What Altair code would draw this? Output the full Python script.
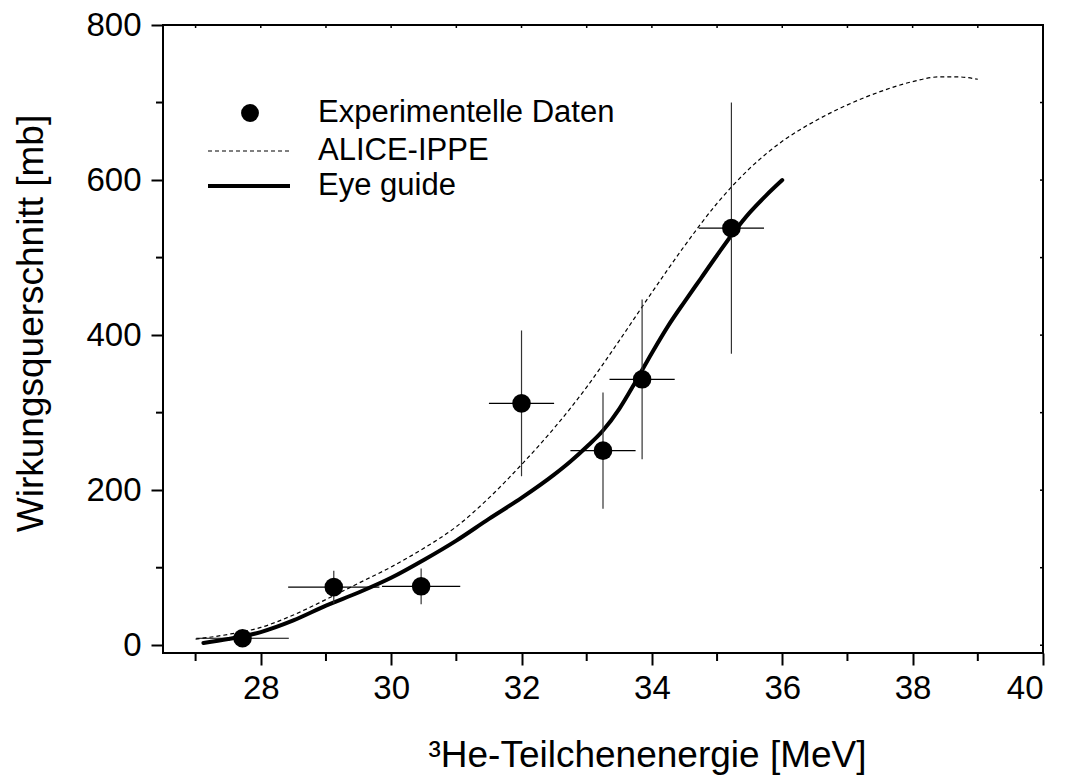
import altair as alt
import pandas as pd

# ---- data ----
energy = [27.72, 29.12, 30.46, 32.0, 33.25, 33.85, 35.22]
sigma = [9, 75, 76, 312, 251, 343, 538]
energy_err = [0.71, 0.70, 0.60, 0.50, 0.50, 0.50, 0.50]
sigma_err = [8, 21, 23, 94, 75, 103, 162]

alice_e = [27.0, 27.5, 28.0, 28.5, 29.0, 29.5, 30.0, 30.5, 31.0, 31.5, 32.0, 32.5,
           33.0, 33.5, 34.0, 34.5, 35.0, 35.5, 36.0, 36.5, 37.0, 37.5,
           38.0, 38.4, 38.7, 39.0]
alice_v = [8, 14, 23, 39, 59, 80, 101, 125, 153, 190, 233, 280,
           333, 393, 455, 515, 570, 615, 650, 676, 697, 714,
           727, 733, 733, 730]

eye_e = [27.12, 27.5, 28.0, 28.5, 29.0, 29.5, 30.0, 30.5, 31.0, 31.5, 32.0, 32.5,
         32.75, 33.0, 33.25, 33.5, 33.75, 34.0, 34.25, 34.5, 34.75, 35.0, 35.25,
         35.5, 35.75, 36.0]
eye_v = [3, 8, 17, 32, 51, 68, 87, 110, 135, 163, 190, 220,
         237, 256, 277, 305, 340, 377, 412, 443, 473, 503, 532,
         558, 580, 600]

x_major = [28, 30, 32, 34, 36, 38, 40]
x_minor = [27, 29, 31, 33, 35, 37, 39]
y_major = [0, 200, 400, 600, 800]
y_minor = [100, 300, 500, 700]

FONT = "Liberation Sans"
W, H = 880, 628

pts = pd.DataFrame({"E": energy, "S": sigma, "dE": energy_err, "dS": sigma_err})
pts["E_lo"] = pts["E"] - pts["dE"]
pts["E_hi"] = pts["E"] + pts["dE"]
pts["S_lo"] = pts["S"] - pts["dS"]
pts["S_hi"] = pts["S"] + pts["dS"]

xs = alt.Scale(domain=[26.5, 40], nice=False, zero=False)
ys = alt.Scale(domain=[-10, 800], nice=False, zero=False)

x_axis = alt.Axis(values=x_major, title="³He-Teilchenenergie [MeV]", grid=False, domain=False,
                  tickSize=12, tickWidth=2, tickColor="black", labelFontSize=33,
                  labelPadding=7, labelColor="black", labelFont=FONT, format="d",
                  titleFontSize=37, titleFontWeight="normal", titleFont=FONT, titleColor="black",
                  titleX=484, titleY=113, titleBaseline="alphabetic", titleAlign="center")
y_axis = alt.Axis(values=y_major, title="Wirkungsquerschnitt [mb]", grid=False, domain=False,
                  tickSize=12, tickWidth=2, tickColor="black", labelFontSize=33,
                  labelPadding=10, labelColor="black", labelFont=FONT, format="d",
                  titleFontSize=37, titleFontWeight="normal", titleFont=FONT, titleColor="black",
                  titleX=-121, titleY=298, titleBaseline="alphabetic", titleAlign="center",
                  titleAngle=270)

base = alt.Chart(pts)

alice = alt.Chart(pd.DataFrame({"E": alice_e, "S": alice_v})).mark_line(
    color="black", strokeWidth=1.2, strokeDash=[4, 3], interpolate="monotone"
).encode(x=alt.X("E:Q", scale=xs, axis=x_axis), y=alt.Y("S:Q", scale=ys, axis=y_axis))

eye = alt.Chart(pd.DataFrame({"E": eye_e, "S": eye_v})).mark_line(
    color="black", strokeWidth=4, interpolate="monotone", strokeCap="round"
).encode(x=alt.X("E:Q", scale=xs), y=alt.Y("S:Q", scale=ys))

xerr = base.mark_rule(color="black", strokeWidth=1.2).encode(
    x=alt.X("E_lo:Q", scale=xs), x2="E_hi:Q", y=alt.Y("S:Q", scale=ys))
yerr = base.mark_rule(color="#333333", strokeWidth=1.2).encode(
    x=alt.X("E:Q", scale=xs), y=alt.Y("S_lo:Q", scale=ys), y2="S_hi:Q")
dots = base.mark_circle(color="black", opacity=1, size=345).encode(
    x=alt.X("E:Q", scale=xs), y=alt.Y("S:Q", scale=ys))

# minor ticks (outside) and small ticks on top/right
xminor = alt.Chart(pd.DataFrame({"v": x_minor})).mark_rule(color="black", strokeWidth=2).encode(
    x=alt.X("v:Q", scale=xs), y=alt.value(H), y2=alt.value(H + 8))
yminor = alt.Chart(pd.DataFrame({"v": y_minor})).mark_rule(color="black", strokeWidth=2).encode(
    y=alt.Y("v:Q", scale=ys), x=alt.value(0), x2=alt.value(-7))
xtop = alt.Chart(pd.DataFrame({"v": x_major + x_minor})).mark_rule(color="black", strokeWidth=1.5).encode(
    x=alt.X("v:Q", scale=xs), y=alt.value(0), y2=alt.value(3))
yright = alt.Chart(pd.DataFrame({"v": y_major + y_minor})).mark_rule(color="black", strokeWidth=1.5).encode(
    y=alt.Y("v:Q", scale=ys), x=alt.value(W), x2=alt.value(W - 3))

# legend
one = pd.DataFrame({"a": [0]})
leg_dot = alt.Chart(one).mark_circle(color="black", opacity=1, size=320).encode(
    x=alt.value(87), y=alt.value(88))
leg_dash = alt.Chart(one).mark_rule(color="black", strokeWidth=1.2, strokeDash=[4, 3]).encode(
    x=alt.value(45), x2=alt.value(127), y=alt.value(126))
leg_solid = alt.Chart(one).mark_rule(color="black", strokeWidth=4).encode(
    x=alt.value(45), x2=alt.value(127), y=alt.value(161))
leg_labels = ["Experimentelle Daten", "ALICE-IPPE", "Eye guide"]
leg_y = [88, 126, 161]
leg_texts = [alt.Chart(one).mark_text(align="left", baseline="middle", fontSize=31, font=FONT,
                                        color="black").encode(
    x=alt.value(155), y=alt.value(yy), text=alt.value(t)) for t, yy in zip(leg_labels, leg_y)]

chart = alt.layer(
    alice, eye, xerr, yerr, dots, xminor, yminor, xtop, yright,
    leg_dot, leg_dash, leg_solid, *leg_texts
).properties(
    width=W, height=H,
    autosize=alt.AutoSizeParams(type="none"),
    padding={"left": 163, "top": 25, "right": 23, "bottom": 123},
).configure(font=FONT, background="white").configure_view(stroke="black", strokeWidth=2)

chart.save("out.html", embed_options={"renderer": "svg", "actions": False})
